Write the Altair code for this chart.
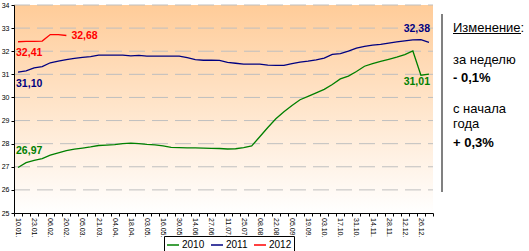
import altair as alt
import pandas as pd

# ---------------- data ----------------
x_labels = ["10.01.", "23.01.", "06.02.", "20.02.", "05.03.", "21.03.", "04.04.",
            "18.04.", "03.05.", "16.05.", "30.05.", "14.06.", "27.06.", "11.07.",
            "25.07.", "08.08.", "22.08.", "05.09.", "19.09.", "03.10.", "17.10.",
            "31.10.", "14.11.", "28.11.", "12.12.", "26.12."]

years = ["2010", "2011", "2012"]
colors = ["#008000", "#000080", "#FF0000"]

v2010 = [26.97, 27.18, 27.28, 27.35, 27.50, 27.60, 27.70, 27.76, 27.81, 27.86,
         27.92, 27.94, 27.96, 28.00, 28.02, 28.00, 27.97, 27.95, 27.90, 27.84,
         27.83, 27.82, 27.82, 27.81, 27.80, 27.79, 27.77, 27.78, 27.83, 27.90,
         28.30, 28.70, 29.08, 29.38, 29.65, 29.90, 30.05, 30.20, 30.35, 30.56,
         30.80, 30.92, 31.12, 31.35, 31.46, 31.56, 31.65, 31.74, 31.85, 32.01,
         30.96, 31.01]
v2011 = [31.10, 31.15, 31.28, 31.33, 31.50, 31.57, 31.64, 31.69, 31.73, 31.77,
         31.83, 31.83, 31.83, 31.83, 31.80, 31.82, 31.79, 31.79, 31.79, 31.79,
         31.79, 31.72, 31.64, 31.61, 31.61, 31.60, 31.52, 31.48, 31.44, 31.44,
         31.44, 31.40, 31.39, 31.39, 31.46, 31.53, 31.57, 31.63, 31.70, 31.86,
         31.90, 32.00, 32.13, 32.21, 32.26, 32.30, 32.35, 32.40, 32.45, 32.49,
         32.50, 32.38]
v2012 = [32.41, 32.43, 32.43, 32.44, 32.72, 32.72, 32.68]

y_ticks = [25, 26, 27, 28, 29, 30, 31, 32, 33, 34]

panel_title = "Изменение:"
panel_week = "за неделю"
panel_week_val = "- 0,1%"
panel_year1 = "с начала"
panel_year2 = "года"
panel_year_val = "+ 0,3%"

# ---------------- tables ----------------
rows = []
for yr, vals in zip(years, [v2010, v2011, v2012]):
    for i, v in enumerate(vals):
        rows.append({"i": i, "value": v, "year": yr})
df = pd.DataFrame(rows)

xlab_df = pd.DataFrame({"i": [2 * k for k in range(len(x_labels))], "t": x_labels})

def fmt(v):
    return f"{v:.2f}".replace(".", ",")

def lbl(yr, vals, which):
    i = 0 if which == "first" else len(vals) - 1
    return pd.DataFrame([{"i": i, "value": vals[i], "year": yr, "t": fmt(vals[i])}])

n = len(v2010)
W, H = 419, 208
FONT = "Liberation Sans"

xscale = alt.Scale(domain=[-0.5, n - 0.5], nice=False, zero=False)
yscale = alt.Scale(domain=[25, 34], nice=False, zero=False)
cscale = alt.Scale(domain=years, range=colors)

tick_vals = [k - 0.5 for k in range(n + 1)]

x_axis = alt.Axis(values=tick_vals, labels=False, tickSize=3, tickColor="#000000",
                  domainColor="#000000", grid=False, zindex=1, title=None)
y_axis = alt.Axis(values=y_ticks, labelFontSize=7, labelFont=FONT,
                  labelColor="#000000", tickSize=3, tickColor="#000000",
                  domainColor="#000000", labelPadding=2, grid=False,
                  zindex=1, title=None)

bg = alt.Chart(alt.Data(values=[{}])).mark_rect(
    fill=alt.Gradient(gradient="linear",
                      stops=[alt.GradientStop(color="#FFCC99", offset=0),
                             alt.GradientStop(color="#FFFFFF", offset=1)],
                      x1=0, x2=0, y1=0, y2=1)
).encode(x=alt.value(0), x2=alt.value(W), y=alt.value(0), y2=alt.value(H))

grid = alt.Chart(pd.DataFrame({"value": y_ticks[1:]})).mark_rule(
    color="#BFBFBF", strokeWidth=1, strokeDash=[16, 7]
).encode(y=alt.Y("value:Q", scale=yscale, axis=y_axis),
         x=alt.value(0), x2=alt.value(W))

lines = alt.Chart(df).mark_line(strokeWidth=1.3, interpolate="linear").encode(
    x=alt.X("i:Q", scale=xscale, axis=x_axis),
    y=alt.Y("value:Q", scale=yscale, axis=y_axis),
    color=alt.Color("year:N", scale=cscale,
                    legend=alt.Legend(orient="none", legendX=150, legendY=231,
                                      direction="horizontal", title=None,
                                      strokeColor="#000000", fillColor="#FFFFFF",
                                      padding=2, symbolType="stroke", symbolSize=144,
                                      symbolStrokeWidth=1.5, labelFontSize=10,
                                      labelFont=FONT, labelColor="#000000",
                                      columnPadding=3, labelOffset=2)),
    order="i:Q",
)

xlabels = alt.Chart(xlab_df).mark_text(
    angle=90, align="left", baseline="middle", font=FONT, fontSize=7,
    color="#000000"
).encode(x=alt.X("i:Q", scale=xscale, axis=x_axis), y=alt.value(H + 5), text="t:N")

def dlabel(d, color, align, dx, dy):
    return alt.Chart(d).mark_text(align=align, baseline="middle", dx=dx, dy=dy,
                                  font=FONT, fontSize=10.5, fontWeight="bold",
                                  color=color).encode(
        x=alt.X("i:Q", scale=xscale, axis=x_axis),
        y=alt.Y("value:Q", scale=yscale, axis=y_axis), text="t:N")

labels = [
    dlabel(lbl("2010", v2010, "first"), colors[0], "left", -2, -16),
    dlabel(lbl("2010", v2010, "last"), colors[0], "right", 1, 8),
    dlabel(lbl("2011", v2011, "first"), colors[1], "left", -2, 12),
    dlabel(lbl("2011", v2011, "last"), colors[1], "right", 1, -13),
    dlabel(lbl("2012", v2012, "first"), colors[2], "left", -2, 11.5),
    dlabel(lbl("2012", v2012, "last"), colors[2], "left", 5, 0),
]

one = alt.Data(values=[{}])

def ptext(s, y, bold=False):
    return alt.Chart(one).mark_text(align="left", baseline="alphabetic", font=FONT,
                                    fontSize=13, fontWeight="bold" if bold else "normal",
                                    color="#000000").encode(
        x=alt.value(439), y=alt.value(y), text=alt.value(s))

sep = alt.Chart(one).mark_rule(color="#808080", strokeWidth=2).encode(
    x=alt.value(428), y=alt.value(9), y2=alt.value(187))
underline = alt.Chart(one).mark_rule(color="#000000", strokeWidth=1).encode(
    x=alt.value(439), x2=alt.value(507), y=alt.value(28.5))

panel = [
    ptext(panel_title, 27),
    ptext(panel_week, 59),
    ptext(panel_week_val, 77, True),
    ptext(panel_year1, 108),
    ptext(panel_year2, 123),
    ptext(panel_year_val, 142, True),
    sep, underline,
]

chart = alt.layer(bg, grid, lines, xlabels, *labels, *panel).properties(
    width=W, height=H,
    padding={"left": 14, "top": 5, "right": 96, "bottom": 38},
    autosize=alt.AutoSizeParams(type="none"),
    background="#FFFFFF",
).configure_view(stroke=None)

chart.save("out.html", embed_options={"renderer": "svg", "actions": False})
